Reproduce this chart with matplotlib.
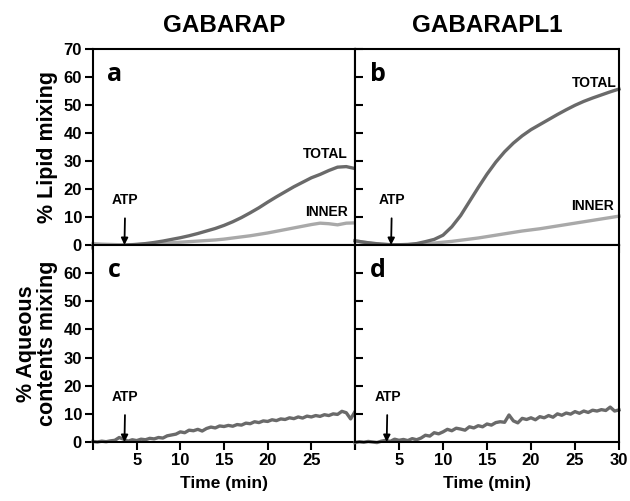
import numpy as np
import matplotlib
matplotlib.use("Agg")
import matplotlib.pyplot as plt

plt.rcParams["font.family"] = ["Liberation Sans", "DejaVu Sans"]
plt.rcParams["font.weight"] = "bold"

# lipid mixing, 1 min steps
t_lipid = [0, 1, 2, 3, 4, 5, 6, 7, 8, 9, 10, 11, 12, 13, 14, 15,
           16, 17, 18, 19, 20, 21, 22, 23, 24, 25, 26, 27, 28, 29, 30]
a_total = [-1.0, -0.8, -0.6, -0.3, 0.0, 0.2, 0.5, 0.9, 1.4, 2.0, 2.6, 3.3, 4.1, 5.0, 5.9, 7.0,
           8.3, 9.8, 11.5, 13.3, 15.3, 17.2, 19.0, 20.8, 22.4, 24.0, 25.2, 26.6, 27.8, 28.0, 27.3]
a_inner = [0.5, 0.3, 0.2, 0.1, 0.1, 0.2, 0.3, 0.4, 0.6, 0.8, 1.0, 1.2, 1.4, 1.6, 1.8, 2.1,
           2.5, 2.9, 3.3, 3.8, 4.3, 4.9, 5.5, 6.1, 6.7, 7.3, 7.8, 7.6, 7.2, 7.8, 7.9]
b_total = [1.5, 1.0, 0.6, 0.3, 0.1, 0.1, 0.2, 0.5, 1.2, 2.0, 3.5, 6.5, 10.5, 15.5, 20.5, 25.3,
           29.6, 33.3, 36.4, 39.0, 41.2, 43.0, 44.8, 46.6, 48.3, 49.9, 51.3, 52.5, 53.6, 54.7, 55.7]
b_inner = [1.5, 1.0, 0.6, 0.3, 0.1, 0.1, 0.1, 0.2, 0.4, 0.7, 1.0, 1.3, 1.7, 2.1, 2.5, 3.0,
           3.5, 4.0, 4.5, 5.0, 5.4, 5.8, 6.3, 6.8, 7.3, 7.8, 8.3, 8.8, 9.3, 9.8, 10.3]

# aqueous contents mixing, 0.5 min steps
t_aq = [0, 0.5, 1, 1.5, 2, 2.5, 3, 3.5, 4, 4.5, 5, 5.5, 6, 6.5, 7, 7.5, 8, 8.5, 9, 9.5,
        10, 10.5, 11, 11.5, 12, 12.5, 13, 13.5, 14, 14.5, 15, 15.5, 16, 16.5, 17, 17.5,
        18, 18.5, 19, 19.5, 20, 20.5, 21, 21.5, 22, 22.5, 23, 23.5, 24, 24.5, 25, 25.5,
        26, 26.5, 27, 27.5, 28, 28.5, 29, 29.5, 30]
c_aq = [0.2, 0.0, 0.3, 0.1, 0.4, 0.6, 1.6, 1.0, 0.3, 0.8, 0.5, 1.0, 0.8, 1.3, 1.1, 1.6,
        1.4, 2.2, 2.5, 2.8, 3.6, 3.3, 4.2, 4.0, 4.5, 3.9, 4.8, 5.3, 5.0, 5.7, 5.5, 5.9,
        5.6, 6.2, 6.0, 6.7, 6.5, 7.2, 6.9, 7.5, 7.3, 7.9, 7.6, 8.2, 8.0, 8.6, 8.3, 8.9,
        8.5, 9.2, 8.9, 9.4, 9.1, 9.7, 9.4, 10.0, 9.8, 10.9, 10.4, 8.2, 10.8]
d_aq = [-0.2, 0.1, -0.1, 0.2, 0.0, -0.2, 0.3, 0.6, 0.2, 1.0, 0.6, 0.9, 0.5, 1.2, 0.8, 1.4,
        2.4, 2.1, 3.3, 2.9, 3.6, 4.5, 4.0, 4.9, 4.6, 4.2, 5.4, 5.0, 5.8, 5.4, 6.4, 6.0,
        6.9, 7.2, 7.0, 9.6, 7.5, 6.8, 8.4, 8.0, 8.6, 7.9, 9.0, 8.6, 9.4, 8.8, 10.0, 9.5,
        10.3, 9.9, 10.8, 10.2, 11.0, 10.5, 11.3, 11.0, 11.5, 11.2, 12.4, 11.0, 11.4]

titles = ["GABARAP", "GABARAPL1"]
letters = ["a", "b", "c", "d"]
atp_time = [3.6, 4.1, 3.6, 3.6]

dark = "#6a6a6a"
light = "#a9a9a9"
lw = 2.4

fig = plt.figure(figsize=(6.3, 5.01), dpi=100)
W, H = 630, 501
def box(l, r, t, b):
    return [l / W, 1 - b / H, (r - l) / W, (b - t) / H]

ax_a = fig.add_axes(box(93, 355, 49, 245))
ax_b = fig.add_axes(box(355, 619, 49, 245))
ax_c = fig.add_axes(box(93, 355, 245, 442))
ax_d = fig.add_axes(box(355, 619, 245, 442))
axes = [ax_a, ax_b, ax_c, ax_d]

ax_a.plot(t_lipid, a_inner, color=light, lw=lw, clip_on=False)
ax_a.plot(t_lipid, a_total, color=dark, lw=lw, clip_on=False)
ax_b.plot(t_lipid, b_inner, color=light, lw=lw, clip_on=False)
ax_b.plot(t_lipid, b_total, color=dark, lw=lw, clip_on=False)
ax_c.plot(t_aq, c_aq, color=dark, lw=lw, clip_on=False)
ax_d.plot(t_aq, d_aq, color=dark, lw=lw, clip_on=False)

lbl = dict(fontsize=10, fontweight="bold", ha="center", va="center")
ax_a.text(26.6, 32.5, "TOTAL", **lbl)
ax_a.text(26.7, 11.8, "INNER", **lbl)
ax_b.text(27.2, 58.0, "TOTAL", **lbl)
ax_b.text(27.0, 13.9, "INNER", **lbl)

for i, ax in enumerate(axes):
    ax.set_xlim(0, 30)
    ax.set_ylim(0, 70)
    ax.set_xticks([0, 5, 10, 15, 20, 25, 30])
    for s in ax.spines.values():
        s.set_linewidth(1.5)
    ax.tick_params(width=1.5, length=6, labelsize=12, pad=2)
    ax.text(0.055, 0.87, letters[i], transform=ax.transAxes, fontsize=18,
            fontweight="bold", family=["Open Sans", "DejaVu Sans"], ha="left", va="center")
    ax.annotate("ATP", xy=(atp_time[i], 0), xytext=(atp_time[i] + 0.1, 16),
                fontsize=10, fontweight="bold", ha="center", va="center",
                arrowprops=dict(arrowstyle="-|>", color="black", lw=1.3,
                                shrinkA=6, shrinkB=0, mutation_scale=10))

# top row
for ax in [ax_a, ax_b]:
    ax.set_yticks(range(0, 71, 10))
    ax.tick_params(axis="x", labelbottom=False, direction="out")
# bottom row
for ax in [ax_c, ax_d]:
    ax.set_yticks(range(0, 61, 10))
ax_c.set_xticklabels(["", "5", "10", "15", "20", "25", ""])
ax_d.set_xticklabels(["", "5", "10", "15", "20", "25", "30"])
for ax in [ax_b, ax_d]:
    ax.tick_params(axis="y", direction="in", labelleft=False)

ax_a.set_title(titles[0], fontsize=17.5, fontweight="bold", pad=12)
ax_b.set_title(titles[1], fontsize=17.5, fontweight="bold", pad=12)

ax_a.set_ylabel("% Lipid mixing", fontsize=15.5, fontweight="bold", labelpad=4)
ax_c.set_ylabel("% Aqueous\ncontents mixing", fontsize=15.5, fontweight="bold",
                labelpad=4, linespacing=1.0)
ax_c.set_xlabel("Time (min)", fontsize=12.5, fontweight="bold", labelpad=6)
ax_d.set_xlabel("Time (min)", fontsize=12.5, fontweight="bold", labelpad=6)

fig.savefig("out.png", dpi=100)
